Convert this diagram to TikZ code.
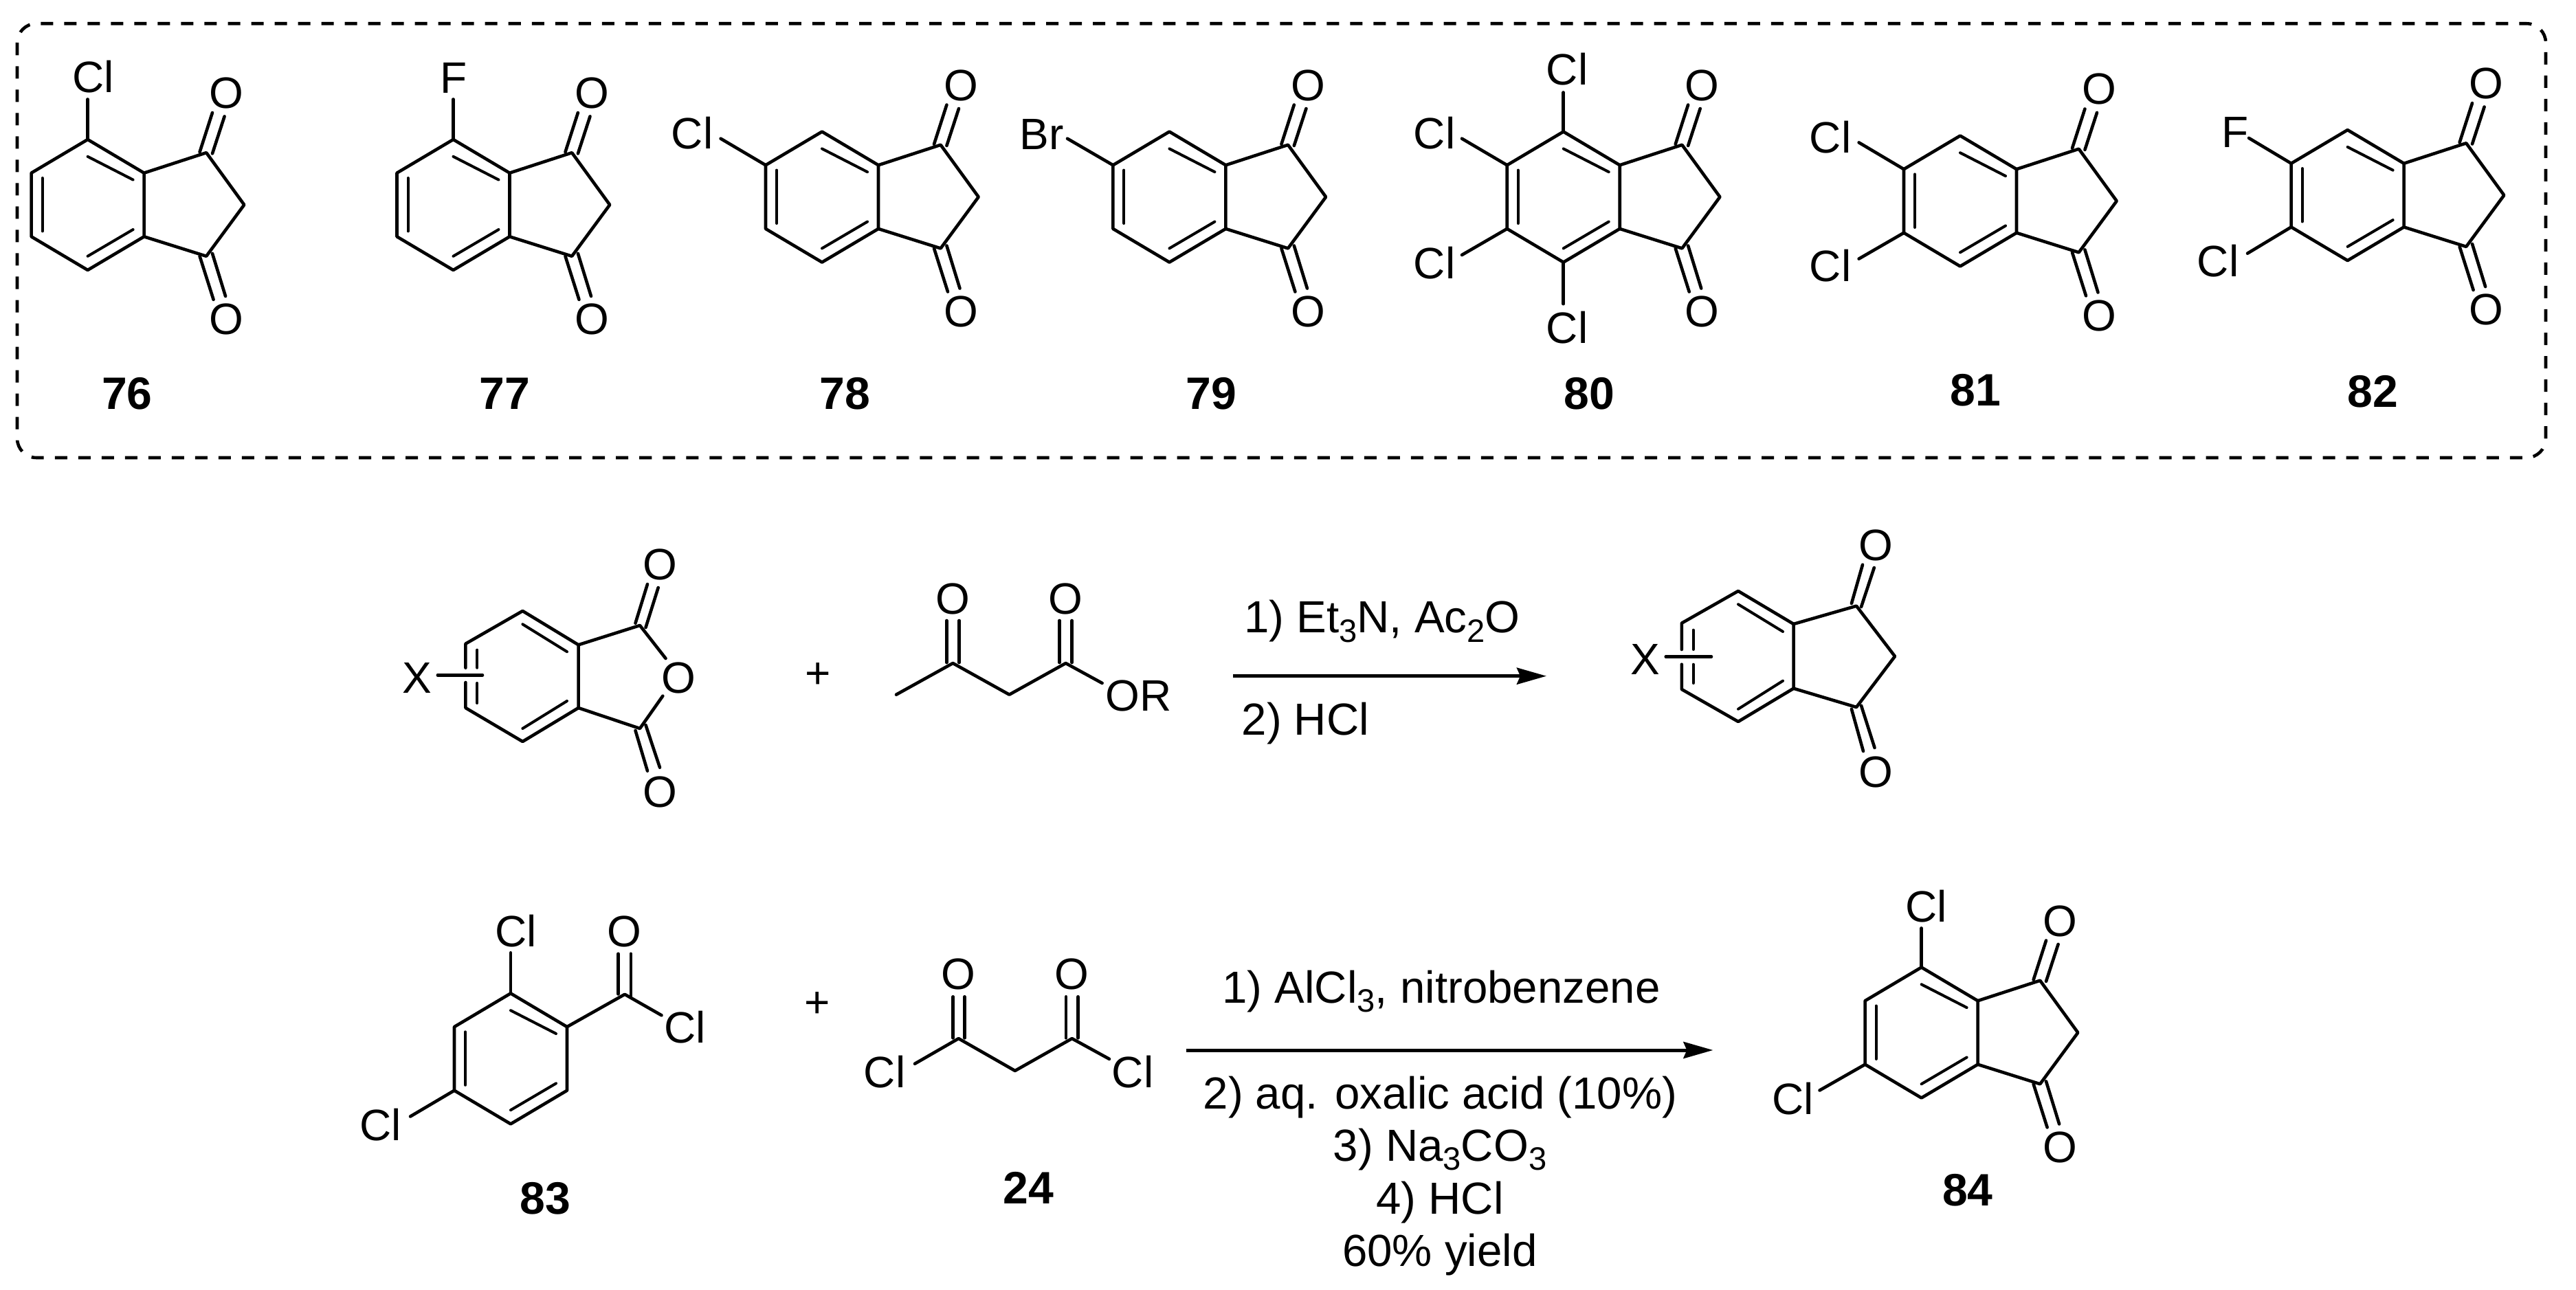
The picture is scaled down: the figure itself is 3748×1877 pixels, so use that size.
\documentclass[tikz,border=0pt]{standalone}
\usepackage{fontspec}
\setmainfont{Liberation Sans}
\usetikzlibrary{arrows.meta}
\newcommand{\lowidx}[1]{\raisebox{-0.2em}{\fontsize{13.4pt}{14pt}\selectfont #1}}
\tikzset{
  bond/.style={line width=0.046cm,line join=round,line cap=round,black},
  inbond/.style={line width=0.04cm,line cap=round,black},
  atom/.style={anchor=base,inner sep=0pt,font=\fontsize{18.2pt}{20pt}\selectfont,yshift=-0.23cm},
  numlabel/.style={anchor=base,inner sep=0pt,font=\fontsize{18.8pt}{20pt}\selectfont\bfseries,yshift=-0.235cm},
  reagent/.style={inner sep=0pt,font=\fontsize{18.6pt}{20pt}\selectfont},
  rxnarrow/.style={line width=0.05cm,-{Stealth[length=0.43cm,width=0.24cm,inset=0.05cm]}},
  dashbox/.style={line width=0.046cm,rounded corners=0.28cm,dash pattern=on 0.18cm off 0.16cm},
}
% ring: name, cx, cy
\newcommand{\ringat}[3]{%
  \begin{scope}[shift={(#2,#3)}]
    \coordinate (#1-t) at (0,-95);
    \coordinate (#1-ur) at (82,-46.3);
    \coordinate (#1-lr) at (82,46.3);
    \coordinate (#1-b) at (0,95);
    \coordinate (#1-ll) at (-82,46.3);
    \coordinate (#1-ul) at (-82,-46.3);
    \draw[bond] (#1-t) -- (#1-ur) -- (#1-lr) -- (#1-b) -- (#1-ll) -- (#1-ul) -- cycle;
    \draw[inbond] (0,-70.2) -- (66,-36.4);
    \draw[inbond] (0,74.8) -- (66,36);
    \draw[inbond] (-66,-39) -- (-66,38.4);
  \end{scope}}
% indane-1,3-dione: name, cx, cy
\newcommand{\dioneat}[3]{%
  \ringat{#1}{#2}{#3}%
  \begin{scope}[shift={(#2,#3)}]
    \coordinate (#1-c1) at (172.6,-75.8);
    \coordinate (#1-c2) at (227.7,0);
    \coordinate (#1-c3) at (172.6,74.8);
    \draw[bond] (#1-ur) -- (#1-c1) -- (#1-c2) -- (#1-c3) -- (#1-lr);
    \draw[bond] (163,-76.8) -- (181.4,-134);
    \draw[bond] (181.4,-74.6) -- (199,-128.6);
    \draw[bond] (163,74.8) -- (183,137.9);
    \draw[bond] (181.4,70.9) -- (200.5,133);
    \node[atom] (#1-o1) at (202,-163.5) {O};
    \node[atom] (#1-o3) at (202,165.5) {O};
  \end{scope}}
% substituent: vertex, name, free end x, y, label x, y, text
\newcommand{\substat}[7]{%
  \coordinate (#2-end) at (#3,#4);
  \node[atom] (#2) at (#5,#6) {#7};
  \draw[bond] (#1) -- (#2-end);}
\begin{document}
\begin{tikzpicture}[x=0.01cm,y=-0.01cm]
\path[fill=white,use as bounding box] (0,0) rectangle (3748,1877);
\draw[dashbox] (25,34.3) rectangle (3704,666);

% 76
\dioneat{a}{127.6}{298}
\substat{a-t}{acl}{127.6}{144.5}{135.6}{112}{Cl}
\node[numlabel] (n76) at (185,572) {76};
% 77
\dioneat{b}{659.5}{298}
\substat{b-t}{bf}{659.5}{144.5}{660}{112.8}{F}
\node[numlabel] (n77) at (734.5,572) {77};
% 78
\dioneat{c}{1196}{286.6}
\substat{c-ul}{ccl}{1048.6}{201.7}{1007}{194}{Cl}
\node[numlabel] (n78) at (1229,572) {78};
% 79
\dioneat{d}{1701.4}{286.6}
\substat{d-ul}{dbr}{1553}{201.7}{1515.5}{195}{Br}
\node[numlabel] (n79) at (1762,572) {79};
% 80
\dioneat{e}{2274.7}{286.6}
\substat{e-t}{ecla}{2274.7}{134.5}{2280}{100.5}{Cl}
\substat{e-b}{eclb}{2274.7}{442.2}{2280}{476.4}{Cl}
\substat{e-ul}{eclc}{2127}{201.7}{2087}{194}{Cl}
\substat{e-ll}{ecld}{2127}{371}{2087}{382.6}{Cl}
\node[numlabel] (n80) at (2312,572) {80};
% 81
\dioneat{f}{2852}{292.5}
\substat{f-ul}{fcla}{2704.6}{207.4}{2663}{199.5}{Cl}
\substat{f-ll}{fclb}{2704.6}{376.6}{2663}{387}{Cl}
\node[numlabel] (n81) at (2874,567.3) {81};
% 82
\dioneat{g}{3415.6}{284.1}
\substat{g-ul}{gf}{3272}{200.9}{3252}{192}{F}
\substat{g-ll}{gcl}{3270}{368.7}{3227}{379.7}{Cl}
\node[numlabel] (n82) at (3452,569.2) {82};

% phthalic anhydride
\coordinate (p-t) at (760.4,889);
\coordinate (p-ur) at (841.6,938.3);
\coordinate (p-lr) at (841.6,1030);
\coordinate (p-b) at (760.4,1079);
\coordinate (p-ll) at (677.4,1030);
\coordinate (p-ul) at (677.4,936.7);
\coordinate (p-c1) at (931,910);
\coordinate (p-c3) at (931,1060);
\draw[bond] (677.4,971.7) -- (p-ul) -- (p-t) -- (p-ur) -- (p-lr) -- (p-b) -- (p-ll) -- (677.4,993);
\draw[inbond] (694.3,945.7) -- (694.3,971.7);
\draw[inbond] (694.3,994) -- (694.3,1023);
\draw[inbond] (760.4,908.3) -- (825,948.3);
\draw[inbond] (760.4,1060) -- (825,1020);
\draw[bond] (p-ur) -- (p-c1) -- (968.5,958);
\draw[bond] (p-lr) -- (p-c3) -- (964.3,1012.7);
\draw[bond] (924.5,906.7) -- (942,850);
\draw[bond] (939.5,913) -- (957.7,855);
\draw[bond] (924.5,1063) -- (942,1121.7);
\draw[bond] (939.5,1055) -- (960,1116.7);
\node[atom] (p-o1) at (960,820.7) {O};
\node[atom] (p-o2) at (987.6,985.7) {O};
\node[atom] (p-o3) at (960,1151.7) {O};
\node[atom] (p-x) at (607,985.3) {X};
\coordinate (p-xa) at (636.8,982.3);
\coordinate (p-xb) at (702,982.3);
\draw[bond] (p-xa) -- (p-xb);
\node[atom] (plus1) at (1190,978) {+};

% acetoacetate
\coordinate (k-me) at (1304,1010.7);
\coordinate (k-c1) at (1386.4,965);
\coordinate (k-ch) at (1468.5,1010.7);
\coordinate (k-c2) at (1550.6,965);
\coordinate (k-e) at (1603.6,994);
\draw[bond] (k-me) -- (k-c1) -- (k-ch) -- (k-c2) -- (k-e);
\draw[bond] (1377.3,903) -- (1377.3,964);
\draw[bond] (1395.5,903) -- (1395.5,964);
\draw[bond] (1541.5,903) -- (1541.5,964);
\draw[bond] (1559.7,903) -- (1559.7,964);
\node[atom] (k-o1) at (1386.4,870.7) {O};
\node[atom] (k-o2) at (1550.6,870.7) {O};
\node[atom] (k-or) at (1656.7,1011.7) {OR};

% arrow 1
\coordinate (a1s) at (1794,983.7);
\coordinate (a1e) at (2250,983.7);
\draw[rxnarrow] (a1s) -- (a1e);
\node[reagent,anchor=base west] (r1) at (1809.6,921) {1) Et\lowidx{3}N, Ac\lowidx{2}O};
\node[reagent,anchor=base west] (r2) at (1806,1070) {2) HCl};

% product X
\coordinate (q-t) at (2529,860);
\coordinate (q-ur) at (2609.6,908);
\coordinate (q-lr) at (2609.6,1001.7);
\coordinate (q-b) at (2529,1050);
\coordinate (q-ll) at (2446.8,1003);
\coordinate (q-ul) at (2446.8,906.7);
\coordinate (q-c1) at (2701,881.7);
\coordinate (q-c2) at (2757,955);
\coordinate (q-c3) at (2701,1029);
\draw[bond] (2446.8,945) -- (q-ul) -- (q-t) -- (q-ur) -- (q-lr) -- (q-b) -- (q-ll) -- (2446.8,966.7);
\draw[bond] (q-ur) -- (q-c1) -- (q-c2) -- (q-c3) -- (q-lr);
\draw[inbond] (2463.7,916.7) -- (2463.7,945);
\draw[inbond] (2463.7,966.7) -- (2463.7,994);
\draw[inbond] (2529,879.3) -- (2594,919);
\draw[inbond] (2529,1031.7) -- (2594,990.7);
\draw[bond] (2693.9,878) -- (2710,821.7);
\draw[bond] (2708,883) -- (2726.8,826);
\draw[bond] (2693.9,1031.7) -- (2711,1093);
\draw[bond] (2708,1026.7) -- (2727.5,1088);
\node[atom] (q-o1) at (2729,792.7) {O};
\node[atom] (q-o3) at (2729,1122.7) {O};
\node[atom] (q-x) at (2394,958) {X};
\coordinate (q-xa) at (2423.7,955.5);
\coordinate (q-xb) at (2490,955.5);
\draw[bond] (q-xa) -- (q-xb);

% 83
\ringat{h}{743}{1540.4}
\coordinate (h-c) at (909,1446.8);
\coordinate (h-e) at (962.5,1477.3);
\draw[bond] (h-ur) -- (h-c) -- (h-e);
\draw[bond] (899.5,1387.8) -- (899.5,1446.4);
\draw[bond] (917.8,1387.8) -- (917.8,1449.3);
\node[atom] (h-o) at (908,1354.8) {O};
\node[atom] (h-cl2) at (996.7,1494.4) {Cl};
\substat{h-t}{hcla}{743}{1386.3}{751}{1354.8}{Cl}
\substat{h-ll}{hclb}{597}{1624.5}{554}{1636}{Cl}
\node[numlabel] (n83) at (793.4,1742.7) {83};
\node[atom] (plus2) at (1189,1457.9) {+};

% 24
\coordinate (m-c1) at (1394.7,1511.1);
\coordinate (m-e1) at (1331,1547.8);
\coordinate (m-ch) at (1476.8,1558);
\coordinate (m-c2) at (1559.7,1511.1);
\coordinate (m-e2) at (1614,1540.9);
\draw[bond] (m-e1) -- (m-c1) -- (m-ch) -- (m-c2) -- (m-e2);
\draw[bond] (1386.7,1450.3) -- (1386.7,1510.3);
\draw[bond] (1403.4,1450.3) -- (1403.4,1510.3);
\draw[bond] (1551,1450.3) -- (1551,1510.3);
\draw[bond] (1568.5,1450.3) -- (1568.5,1510.3);
\node[atom] (m-o1) at (1394.7,1416.8) {O};
\node[atom] (m-o2) at (1559.7,1416.8) {O};
\node[atom] (m-cl1) at (1287,1559.2) {Cl};
\node[atom] (m-cl2) at (1648,1559.2) {Cl};
\node[numlabel] (n24) at (1496,1728.2) {24};

% arrow 2
\coordinate (a2s) at (1725.8,1528);
\coordinate (a2e) at (2492.4,1528);
\draw[rxnarrow] (a2s) -- (a2e);
\node[reagent,anchor=base] (s1) at (2097,1459.8) {1) AlCl\lowidx{3}, nitrobenzene};
\node[reagent,anchor=base] (s2) at (2095.4,1613.2) {2) aq. oxalic acid (10\%)};
\node[reagent,anchor=base] (s3) at (2095,1689.4) {3) Na\lowidx{3}CO\lowidx{3}};
\node[reagent,anchor=base] (s4) at (2095,1766.3) {4) HCl};
\node[reagent,anchor=base] (s5) at (2095,1842.9) {60\% yield};

% 84
\dioneat{j}{2795.6}{1502.5}
\substat{j-t}{jcla}{2795.6}{1350.5}{2802.5}{1318.1}{Cl}
\substat{j-ll}{jclb}{2647.5}{1586.5}{2608.7}{1598.9}{Cl}
\node[numlabel] (n84) at (2862.8,1731) {84};
\end{tikzpicture}
\end{document}
